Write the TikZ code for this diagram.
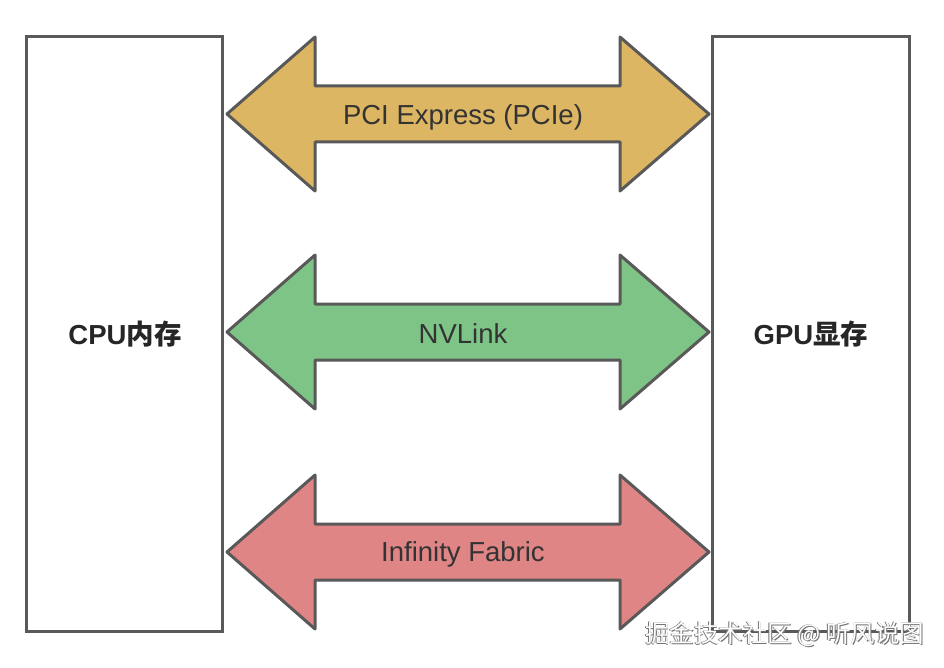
\documentclass[tikz,border=0pt]{standalone}
\usepackage{fontspec}
\setmainfont{Liberation Sans}
\newfontfamily\cjk{Noto Sans CJK SC}
\definecolor{edge}{HTML}{595959}
\definecolor{gold}{HTML}{DDB663}
\definecolor{leaf}{HTML}{7DC486}
\definecolor{rose}{HTML}{E08585}
\definecolor{ink}{HTML}{333333}
\tikzset{
  membox/.style={draw=edge, line width=3pt, fill=white},
  linkarrow/.style={draw=edge, line width=3pt, line join=round},
  linklabel/.style={text=ink, font=\fontsize{27.5}{32}\selectfont, inner sep=0pt},
  memlabel/.style={text=black!85, font=\fontsize{27.5}{32}\selectfont\bfseries, inner sep=0pt},
  wmark/.style={font=\cjk\fontsize{24.5}{28}\selectfont, inner sep=0pt, anchor=east}
}
\newcommand{\dblarrow}[2]{%
  \fill[#2] (227,#1) -- (315,#1-77) -- (315,#1-28) -- (620,#1-28) -- (620,#1-77)
    -- (709,#1) -- (620,#1+77) -- (620,#1+28) -- (315,#1+28) -- (315,#1+77) -- cycle;
  \draw[linkarrow] (227,#1) -- (315,#1-77) -- (315,#1-28) -- (620,#1-28) -- (620,#1-77)
    -- (709,#1) -- (620,#1+77) -- (620,#1+28) -- (315,#1+28) -- (315,#1+77) -- cycle;
}
\begin{document}
\begin{tikzpicture}[x=1pt,y=-1pt]
\useasboundingbox (0,0) rectangle (944,668);
\fill[white] (0,0) rectangle (944,668);
% memory boxes
\draw[membox] (26,37) rectangle (222,631);
\draw[membox] (712,37) rectangle (909,631);
\node[memlabel] (cpu) at (125,334) {CPU{\cjk 内存}};
\node[memlabel] (gpu) at (811,334) {GPU{\cjk 显存}};
% links
\dblarrow{114}{gold}
\dblarrow{332}{leaf}
\dblarrow{552}{rose}
\node[linklabel] (pcie) at (463,117) {PCI Express (PCIe)};
\node[linklabel] (nvl) at (463,334) {NVLink};
\node[linklabel] (inf) at (463,554) {Infinity Fabric};
% watermark
\node[wmark, text=black!55] (wm0) at (925.2,635.2) {掘金技术社区 @ 听风说图};
\node[wmark, text=black!55] (wm1) at (923.8,633.8) {掘金技术社区 @ 听风说图};
\node[wmark, text=white] (wm) at (924.5,634.5) {掘金技术社区 @ 听风说图};
\end{tikzpicture}
\end{document}
